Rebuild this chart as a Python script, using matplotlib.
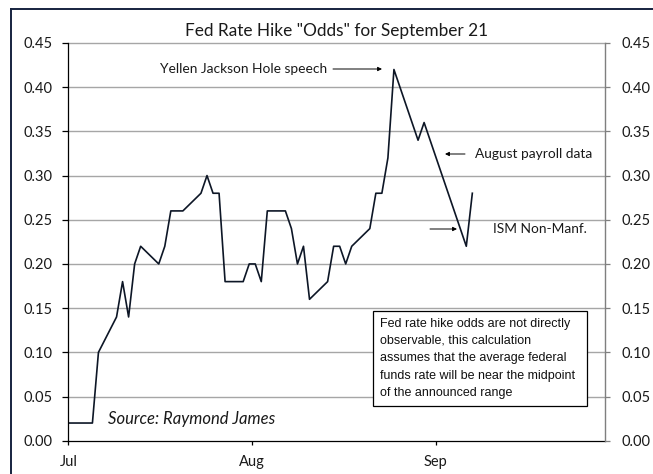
import matplotlib
matplotlib.use("Agg")
import matplotlib.pyplot as plt
from matplotlib import font_manager
from matplotlib.patches import Rectangle
from matplotlib.lines import Line2D
import pandas as pd

# ---- data ----
dates = ["2016-07-03", "2016-07-07", "2016-07-08", "2016-07-11", "2016-07-12",
         "2016-07-13", "2016-07-14", "2016-07-15", "2016-07-18", "2016-07-19",
         "2016-07-20", "2016-07-22", "2016-07-25", "2016-07-26", "2016-07-27",
         "2016-07-28", "2016-07-29", "2016-08-01", "2016-08-02", "2016-08-03",
         "2016-08-04", "2016-08-05", "2016-08-08", "2016-08-09", "2016-08-10",
         "2016-08-11", "2016-08-12", "2016-08-15", "2016-08-16", "2016-08-17",
         "2016-08-18", "2016-08-19", "2016-08-22", "2016-08-23", "2016-08-24",
         "2016-08-25", "2016-08-26", "2016-08-30", "2016-08-31", "2016-09-07",
         "2016-09-08"]
odds = [0.02, 0.02, 0.10, 0.14, 0.18,
        0.14, 0.20, 0.22, 0.20, 0.22,
        0.26, 0.26, 0.28, 0.30, 0.28,
        0.28, 0.18, 0.18, 0.20, 0.20,
        0.18, 0.26, 0.26, 0.24, 0.20,
        0.22, 0.16, 0.18, 0.22, 0.22,
        0.20, 0.22, 0.24, 0.28, 0.28,
        0.32, 0.42, 0.34, 0.36, 0.22,
        0.28]
x_range = ["2016-07-03", "2016-09-30"]
tick_dates = ["2016-07-03 00:00", "2016-08-02 10:00", "2016-09-01 22:00"]
tick_labels = ["Jul", "Aug", "Sep"]
y_ticks = [0.00, 0.05, 0.10, 0.15, 0.20, 0.25, 0.30, 0.35, 0.40, 0.45]
title = 'Fed Rate Hike "Odds" for September 21'
note = ("Fed rate hike odds are not directly\n"
        "observable, this calculation\n"
        "assumes that the average federal\n"
        "funds rate will be near the midpoint\n"
        "of the announced range")

available = {f.name for f in font_manager.fontManager.ttflist}
main_font = "Lato" if "Lato" in available else "DejaVu Sans"
box_font = ("Liberation Sans Narrow" if "Liberation Sans Narrow" in available
            else "Liberation Sans")
box_size = 10 if box_font == "Liberation Sans Narrow" else 9.0

plt.rcParams["font.family"] = [main_font, "DejaVu Sans"]

W, H = 653, 474
fig = plt.figure(figsize=(W / 100, H / 100), dpi=100)
fig.patch.set_facecolor("white")

L, R, T, B = 68.3, 605, 43, 440.7
ax = fig.add_axes([L / W, 1 - B / H, (R - L) / W, (B - T) / H])

x = pd.to_datetime(dates)
ax.plot(x, odds, color="#0d1626", lw=1.2, zorder=4)

ax.set_xlim(pd.to_datetime(x_range[0]), pd.to_datetime(x_range[1]))
ax.set_ylim(0, 0.45)
ax.set_xticks(pd.to_datetime(tick_dates, format="%Y-%m-%d %H:%M"))
ax.set_xticklabels(tick_labels)
ax.set_yticks(y_ticks)
ax.set_yticklabels([f"{v:.2f}" for v in y_ticks])

for v in y_ticks[1:]:
    ax.axhline(v, color="#a6a6a6", lw=1.0, zorder=1, clip_on=False)

ax.spines["top"].set_visible(False)
ax.spines["right"].set_visible(False)
ax.spines["left"].set_color("black")
ax.spines["bottom"].set_color("black")
ax.spines["left"].set_linewidth(0.9)
ax.spines["bottom"].set_linewidth(0.9)
ax.spines["left"].set_zorder(5)
ax.spines["bottom"].set_zorder(5)
ax.tick_params(axis="y", direction="out", length=4.3, width=0.9, pad=7.0,
               labelsize=10.5, labelcolor="#1a1a1a", color="black")
ax.tick_params(axis="x", direction="out", length=3.0, width=0.9, pad=7.0,
               labelsize=10.5, labelcolor="#1a1a1a", color="black")

ax2 = ax.twinx()
ax2.set_ylim(0, 0.45)
ax2.set_yticks(y_ticks)
ax2.set_yticklabels([f"{v:.2f}" for v in y_ticks])
for s in ["top", "left", "bottom"]:
    ax2.spines[s].set_visible(False)
ax2.spines["right"].set_color("#7f7f7f")
ax2.spines["right"].set_linewidth(1.0)
ax2.tick_params(axis="y", direction="out", length=3.6, width=0.9, pad=8.2,
                labelsize=10.5, labelcolor="#1a1a1a", color="#7f7f7f")

fig.text((L + R) / 2 / W, 1 - 31 / H, title, ha="center", va="center",
         fontsize=12.4, color="#1a1a1a")

def fx(px):
    return (px - L) / (R - L)

def fy(py):
    return (B - py) / (B - T)

arrow = dict(arrowstyle="-|>", color="black", lw=0.7, mutation_scale=6,
             shrinkA=0, shrinkB=0)

# Yellen
ax.text(fx(327), fy(69), "Yellen Jackson Hole speech", transform=ax.transAxes,
        ha="right", va="center", fontsize=9.9, color="#1a1a1a", zorder=6)
ax.annotate("", xy=(fx(382), fy(69)), xytext=(fx(333), fy(69)),
            xycoords="axes fraction", textcoords="axes fraction",
            arrowprops=arrow, zorder=6)
# Payroll
ax.text(fx(475), fy(154), "August payroll data", transform=ax.transAxes,
        ha="left", va="center", fontsize=9.9, color="#1a1a1a", zorder=6)
ax.annotate("", xy=(fx(445), fy(154)), xytext=(fx(465), fy(154)),
            xycoords="axes fraction", textcoords="axes fraction",
            arrowprops=arrow, zorder=6)
# ISM
ax.text(fx(493), fy(229), "ISM Non-Manf.", transform=ax.transAxes,
        ha="left", va="center", fontsize=9.9, color="#1a1a1a", zorder=6)
ax.annotate("", xy=(fx(457), fy(229)), xytext=(fx(430), fy(229)),
            xycoords="axes fraction", textcoords="axes fraction",
            arrowprops=arrow, zorder=6)

# Source
ax.text(fx(108), fy(419), "Source: Raymond James", transform=ax.transAxes,
        ha="left", va="center", fontsize=12, style="italic",
        color="#1a1a1a", zorder=6)

# note box
ax.add_patch(Rectangle((fx(373.3), fy(406)), fx(586.7) - fx(373.3),
                       fy(311) - fy(406), transform=ax.transAxes,
                       facecolor="white", edgecolor="black", lw=0.9,
                       zorder=3, clip_on=False))
ax.text(fx(380), fy(317.5), note, transform=ax.transAxes, ha="left", va="top",
        fontsize=box_size, family=[box_font, "DejaVu Sans"],
        linespacing=1.6, color="#111111", zorder=6)

# outer frame
frame_col = "#16233f"
fig.add_artist(Line2D([10.5 / W, 1.0], [1 - 8.5 / H, 1 - 8.5 / H],
                      transform=fig.transFigure, color=frame_col, lw=1.4))
fig.add_artist(Line2D([10.5 / W, 10.5 / W], [0.0, 1 - 8.5 / H],
                      transform=fig.transFigure, color=frame_col, lw=1.4))

fig.savefig("out.png", dpi=100)
